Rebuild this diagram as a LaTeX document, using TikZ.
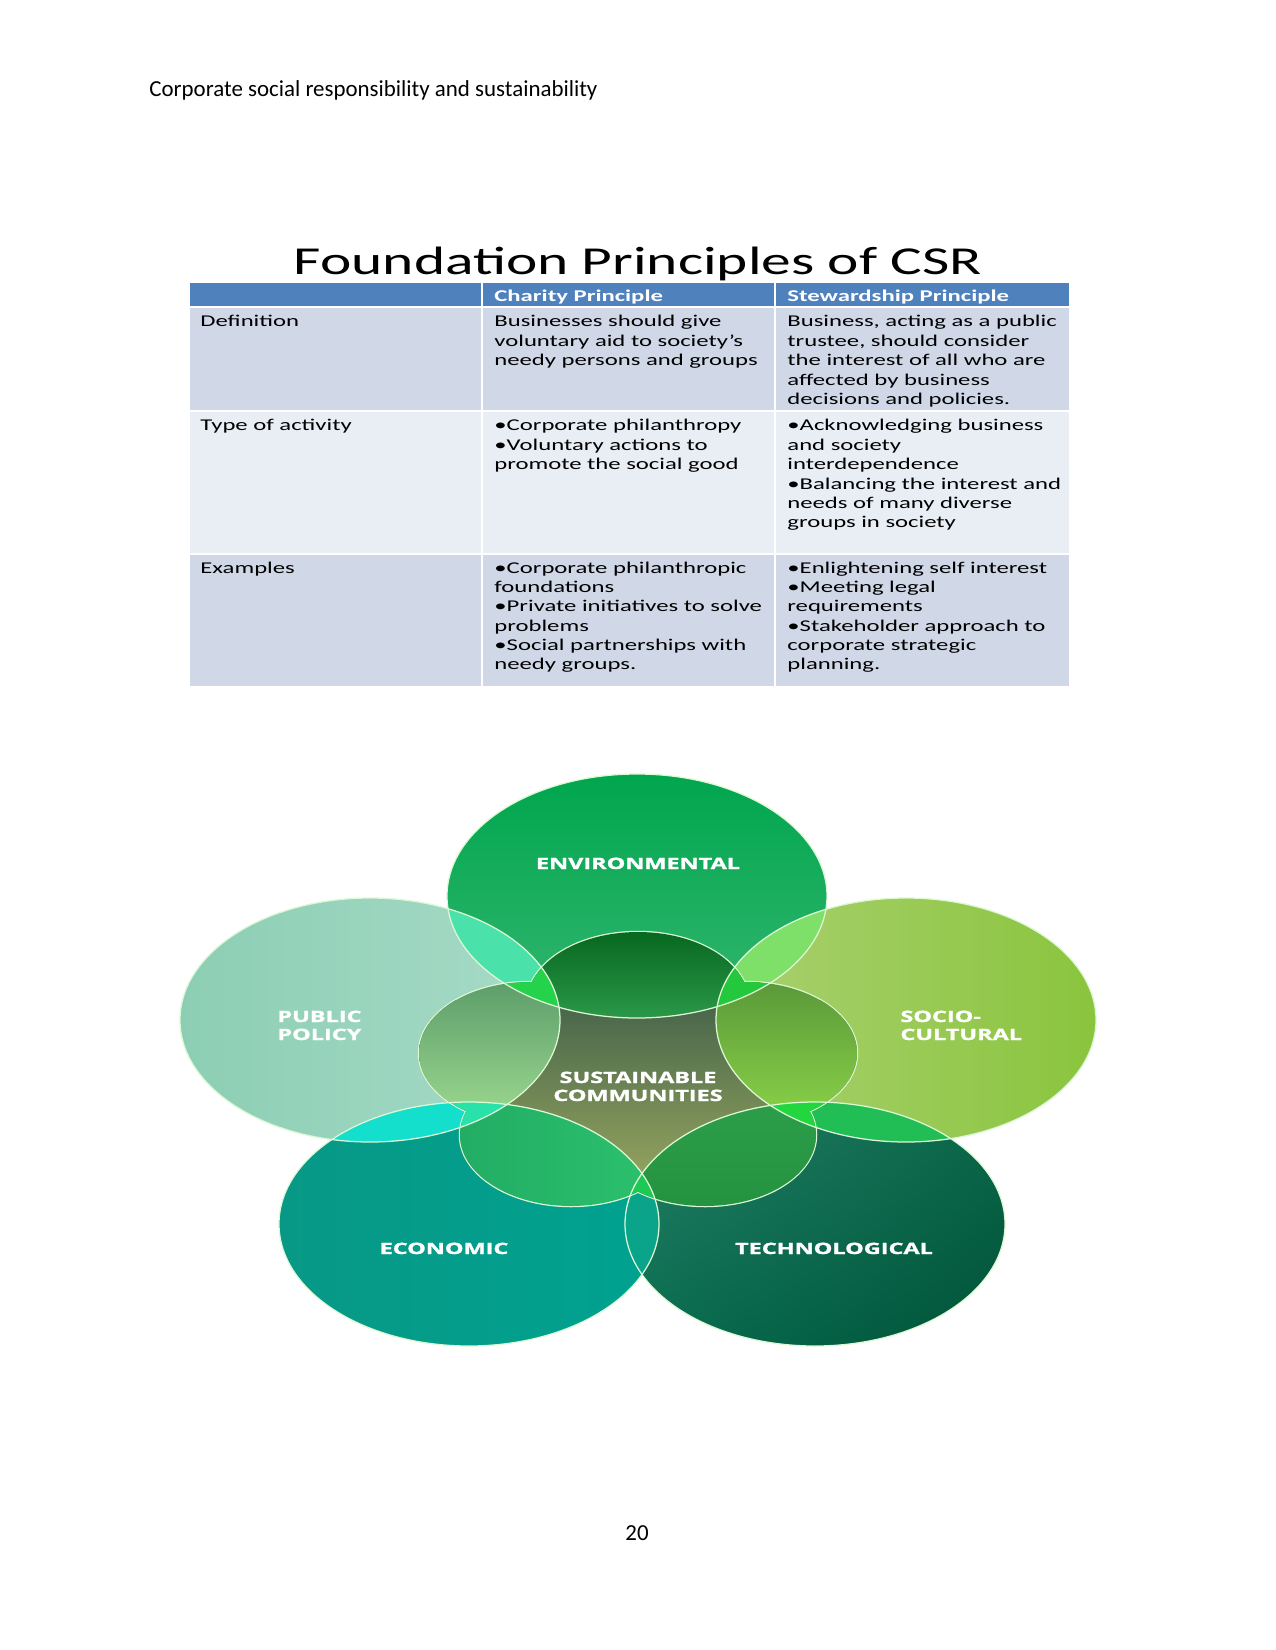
\documentclass[tikz,border=0pt]{standalone}
\usepackage{fontspec}
\setmainfont{Carlito}
\newfontfamily\csrlbl{Open Sans}[BoldFeatures={FakeBold=1.2}]
\usepackage{graphicx}
\usetikzlibrary{shadings}
\definecolor{hdrblue}{HTML}{4F81BD}
\definecolor{rowA}{HTML}{D0D8E8}
\definecolor{rowB}{HTML}{E9EDF4}
\definecolor{edgec}{HTML}{DDF8D4}
\definecolor{lensPE}{RGB}{74,226,170}
\definecolor{lensES}{RGB}{126,224,104}
\definecolor{lensST}{RGB}{32,190,84}
\definecolor{lensTE}{RGB}{10,164,138}
\definecolor{lensEP}{RGB}{20,222,204}
\definecolor{triPE}{RGB}{36,210,76}
\definecolor{triES}{RGB}{36,200,60}
\definecolor{triST}{RGB}{34,214,64}
\definecolor{triTE}{RGB}{30,200,84}
\definecolor{triEP}{RGB}{40,226,170}
\newcommand\csrtx[1]{\scalebox{1.5}[1]{\begin{tabular}[t]{@{}l@{}}#1\end{tabular}}}
\newcommand\csrlb[1]{\scalebox{1.5}[1]{\begin{tabular}[t]{@{}l@{}}#1\end{tabular}}}
\newcommand\csrlbc[1]{\scalebox{1.5}[1]{\begin{tabular}[t]{@{}c@{}}#1\end{tabular}}}
\def\csrEnv{(637,896) ellipse [x radius=190, y radius=122]}
\def\csrPP{(370,1020) ellipse [x radius=190, y radius=122]}
\def\csrSC{(906,1020) ellipse [x radius=190, y radius=122]}
\def\csrEc{(469,1224) ellipse [x radius=190, y radius=122]}
\def\csrTe{(815,1224) ellipse [x radius=190, y radius=122]}
\def\csrU{(638,1003) ellipse [x radius=111, y radius=71] (530,1053) ellipse [x radius=111, y radius=71] (746,1053) ellipse [x radius=111, y radius=71] (571,1135) ellipse [x radius=111, y radius=71] (705,1135) ellipse [x radius=111, y radius=71] (638,1076) ellipse [x radius=100, y radius=64]}
\begin{document}
\begin{tikzpicture}[x=0.48pt,y=-0.48pt,
  cell/.style={anchor=base west, inner sep=0pt, font=\fontsize{7.9}{9.3}\selectfont},
  lbl/.style={inner sep=0pt, text=white, font=\csrlbl\bfseries\fontsize{7.5}{8.64}\selectfont},
  edge/.style={draw=edgec, line width=0.6pt},
  sep/.style={draw=white, line width=1pt}]
\fill[white] (0,0) rectangle (1275,1650);
\useasboundingbox (0,0) rectangle (1275,1650);
% page header and number
\node[anchor=base west, inner sep=0pt, font=\fontsize{11}{13}\selectfont] (hdr) at (149,97) {Corporate social responsibility and sustainability};
\node[anchor=base, inner sep=0pt, font=\fontsize{11}{13}\selectfont] (pgno) at (637,1540) {20};
% title
\node[anchor=base, inner sep=0pt] (title) at (638,275) {\scalebox{1.5}[1]{\fontsize{19}{22}\selectfont Foundation Principles of CSR}};
% table
\fill[hdrblue] (190,283) rectangle (1069,307);
\fill[rowA] (190,307) rectangle (1069,411);
\fill[rowB] (190,411) rectangle (1069,554);
\fill[rowA] (190,554) rectangle (1069,686);
\draw[sep] (190,307) -- (1069,307);
\draw[sep] (190,411) -- (1069,411);
\draw[sep] (190,554) -- (1069,554);
\draw[sep] (482,283) -- (482,686);
\draw[sep] (775,283) -- (775,686);
\node[cell, text=white] (h2) at (494,302) {\csrtx{\bfseries Charity Principle}};
\node[cell, text=white] (h3) at (787,302) {\csrtx{\bfseries Stewardship Principle}};
\node[cell] (r1c1) at (200,327) {\csrtx{Definition}};
\node[cell] (r1c2) at (494,327) {\csrtx{Businesses should give\\voluntary aid to society’s\\needy persons and groups}};
\node[cell] (r1c3) at (787,327) {\csrtx{Business, acting as a public\\trustee, should consider\\the interest of all who are\\affected by business\\decisions and policies.}};
\node[cell] (r2c1) at (200,431) {\csrtx{Type of activity}};
\node[cell] (r2c2) at (494,431) {\csrtx{•Corporate philanthropy\\•Voluntary actions to\\promote the social good}};
\node[cell] (r2c3) at (787,431) {\csrtx{•Acknowledging business\\and society\\interdependence\\•Balancing the interest and\\needs of many diverse\\groups in society}};
\node[cell] (r3c1) at (200,573) {\csrtx{Examples}};
\node[cell] (r3c2) at (494,573) {\csrtx{•Corporate philanthropic\\foundations\\•Private initiatives to solve\\problems\\•Social partnerships with\\needy groups.}};
\node[cell] (r3c3) at (787,573) {\csrtx{•Enlightening self interest\\•Meeting legal\\requirements\\•Stakeholder approach to\\corporate strategic\\planning.}};
% ---------- diagram: outer circles
\shade[top color={rgb,255:red,0;green,166;blue,78}, bottom color={rgb,255:red,52;green,182;blue,112}] \csrEnv;
\shade[left color={rgb,255:red,140;green,206;blue,180}, right color={rgb,255:red,168;green,219;blue,200}] \csrPP;
\shade[left color={rgb,255:red,170;green,208;blue,112}, right color={rgb,255:red,138;green,197;blue,62}] \csrSC;
\shade[left color={rgb,255:red,8;green,152;blue,134}, right color={rgb,255:red,0;green,162;blue,144}] \csrEc;
\shade[upper left={rgb,255:red,40;green,128;blue,104}, upper right={rgb,255:red,10;green,104;blue,74}, lower left={rgb,255:red,8;green,110;blue,80}, lower right={rgb,255:red,0;green,82;blue,56}] \csrTe;
% lenses
\begin{scope}\clip \csrPP; \fill[lensPE] \csrEnv; \end{scope}
\begin{scope}\clip \csrSC; \fill[lensES] \csrEnv; \end{scope}
\begin{scope}\clip \csrSC; \fill[lensST] \csrTe; \end{scope}
\begin{scope}\clip \csrEc; \fill[lensTE] \csrTe; \end{scope}
\begin{scope}\clip \csrEc; \fill[lensEP] \csrPP; \end{scope}
% inner union outline (half covered later)
\draw[draw=edgec, line width=1.2pt] \csrU;
% central star region
\begin{scope}\clip \csrU;
\shade[top color={rgb,255:red,70;green,100;blue,74}, bottom color={rgb,255:red,148;green,164;blue,94}] (400,1000) rectangle (880,1180);
\end{scope}
% inner parts of each outer circle
\begin{scope}\clip \csrEnv; \clip \csrU;
\shade[top color={rgb,255:red,6;green,102;blue,30}, bottom color={rgb,255:red,44;green,154;blue,74}] (520,928) rectangle (760,1022);
\end{scope}
\begin{scope}\clip \csrPP; \clip \csrU;
\shade[top color={rgb,255:red,90;green,154;blue,104}, bottom color={rgb,255:red,160;green,222;blue,146}] (410,975) rectangle (566,1130);
\end{scope}
\begin{scope}\clip \csrSC; \clip \csrU;
\shade[top color={rgb,255:red,88;green,150;blue,56}, bottom color={rgb,255:red,142;green,214;blue,74}] (710,975) rectangle (870,1130);
\end{scope}
\begin{scope}\clip \csrEc; \clip \csrU;
\shade[left color={rgb,255:red,34;green,172;blue,100}, right color={rgb,255:red,44;green,194;blue,110}] (455,1098) rectangle (665,1215);
\end{scope}
\begin{scope}\clip \csrTe; \clip \csrU;
\shade[top color={rgb,255:red,44;green,158;blue,74}, bottom color={rgb,255:red,36;green,146;blue,64}] (620,1098) rectangle (825,1215);
\end{scope}
% triple overlaps
\begin{scope}\clip \csrPP; \clip \csrEnv; \fill[triPE] \csrU; \end{scope}
\begin{scope}\clip \csrSC; \clip \csrEnv; \fill[triES] \csrU; \end{scope}
\begin{scope}\clip \csrSC; \clip \csrTe; \fill[triST] \csrU; \end{scope}
\begin{scope}\clip \csrEc; \clip \csrTe; \fill[triTE] \csrU; \end{scope}
\begin{scope}\clip \csrEc; \clip \csrPP; \fill[triEP] \csrU; \end{scope}
% outlines of outer circles
\draw[edge] \csrEnv;
\draw[edge] \csrPP;
\draw[edge] \csrSC;
\draw[edge] \csrEc;
\draw[edge] \csrTe;
% labels
\node[lbl, anchor=base] (lenv) at (638,869) {\csrlbc{ENVIRONMENTAL}};
\node[lbl, anchor=base west] (lpp) at (277,1022) {\csrlb{PUBLIC\\POLICY}};
\node[lbl, anchor=base west] (lsc) at (900,1022) {\csrlb{SOCIO-\\CULTURAL}};
\node[lbl, anchor=base] (lsus) at (638,1083) {\csrlbc{SUSTAINABLE\\COMMUNITIES}};
\node[lbl, anchor=base] (lec) at (444,1254) {\csrlbc{ECONOMIC}};
\node[lbl, anchor=base] (lte) at (834,1254) {\csrlbc{TECHNOLOGICAL}};
\end{tikzpicture}
\end{document}
